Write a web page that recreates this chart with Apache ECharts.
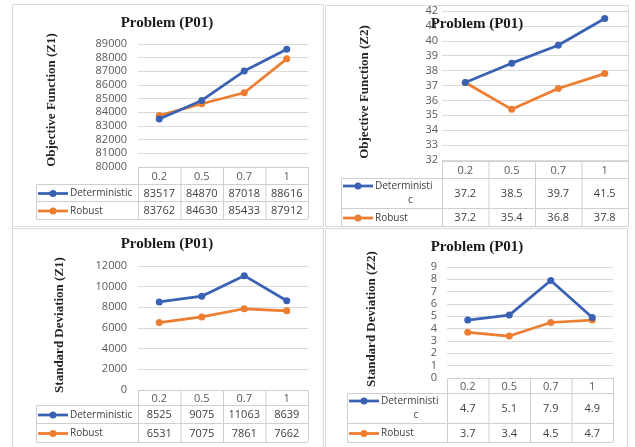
<!DOCTYPE html>
<html>
<head>
<meta charset="utf-8">
<script src="https://cdn.jsdelivr.net/npm/echarts@6/dist/echarts.min.js"></script>
<style>html,body{margin:0;padding:0;background:#fff}#c{width:635px;height:447px}</style>
</head>
<body>
<div id="c"></div>
<script>
// ---------- data ----------
const categories = ['0.2', '0.5', '0.7', '1'];
const seriesNames = ['Deterministic', 'Robust'];
const chartTitle = 'Problem (P01)';
const yTitles = ['Objective Function (Z1)', 'Objective Function (Z2)', 'Standard Deviation (Z1)', 'Standard Deviation (Z2)'];
const detObjZ1 = [83517, 84870, 87018, 88616];
const robObjZ1 = [83762, 84630, 85433, 87912];
const detObjZ2 = [37.2, 38.5, 39.7, 41.5];
const robObjZ2 = [37.2, 35.4, 36.8, 37.8];
const detSdZ1 = [8525, 9075, 11063, 8639];
const robSdZ1 = [6531, 7075, 7861, 7662];
const detSdZ2 = [4.7, 5.1, 7.9, 4.9];
const robSdZ2 = [3.7, 3.4, 4.5, 4.7];
const yRanges = [[80000, 89000, 1000], [32, 42, 1], [0, 12000, 2000], [0, 9, 1]];

// ---------- layout ----------
const COLORS = ['#3A62B4', '#ED7D31'];
const panels = [
  { frame: [12, 4, 323, 226], grid: { left: 138, top: 44, width: 170, height: 123 }, labMargin: 11,
    rows: [167, 184, 201, 219], legLeft: 36, title: [167, 23], ytitle: [52, 100], wrap: false,
    data: [detObjZ1, robObjZ1] },
  { frame: [325, 5, 628, 226], grid: { left: 442, top: 11, width: 186, height: 149 }, labMargin: 4,
    rows: [161, 178, 208, 226], legLeft: 341, title: [477, 24], ytitle: [365, 92], wrap: true,
    data: [detObjZ2, robObjZ2] },
  { frame: [12, 228, 323, 447], grid: { left: 138, top: 266, width: 170, height: 124 }, labMargin: 11,
    rows: [390, 405, 423, 442], legLeft: 36, title: [167, 244], ytitle: [60, 325], wrap: false,
    data: [detSdZ1, robSdZ1] },
  { frame: [325, 228, 627, 447], grid: { left: 447, top: 267, width: 166, height: 111 }, labMargin: 10,
    rows: [378, 393, 423, 442], legLeft: 347, title: [477, 247], ytitle: [372, 319], wrap: true,
    data: [detSdZ2, robSdZ2] }
];

const SANS = '"Open Sans", "Noto Sans", sans-serif';
const SERIF = '"Liberation Serif", "DejaVu Serif", serif';
const TABLE_LINE = '#cfcfcf';

const grids = [], xAxes = [], yAxes = [], series = [], graphics = [];

panels.forEach((p, i) => {
  grids.push(Object.assign({ containLabel: false }, p.grid));
  xAxes.push({ type: 'category', gridIndex: i, data: categories, boundaryGap: true,
    axisLine: { show: false }, axisTick: { show: false }, axisLabel: { show: false }, splitLine: { show: false } });
  yAxes.push({ type: 'value', gridIndex: i, min: yRanges[i][0], max: yRanges[i][1], interval: yRanges[i][2],
    axisLine: { show: false }, axisTick: { show: false },
    axisLabel: { color: '#595959', fontFamily: SANS, fontSize: 11, margin: p.labMargin, formatter: v => String(v) },
    splitLine: { lineStyle: { color: '#d9d9d9', width: 1 } } });
  p.data.forEach((d, k) => {
    series.push({ type: 'line', name: seriesNames[k], xAxisIndex: i, yAxisIndex: i, data: d,
      symbol: 'circle', symbolSize: 7, color: COLORS[k],
      lineStyle: { width: 2.75, color: COLORS[k] }, itemStyle: { color: COLORS[k] }, z: 3 + (1 - k) });
  });

  // panel frame
  const f = p.frame;
  graphics.push({ type: 'rect', shape: { x: f[0] + 0.5, y: f[1] + 0.5, width: f[2] - f[0], height: f[3] - f[1] },
    style: { fill: null, stroke: '#d9d9d9', lineWidth: 1 }, z: 1 });
  // titles
  graphics.push({ type: 'text', x: p.title[0], y: p.title[1],
    style: { text: chartTitle, font: 'bold 15px ' + SERIF, fill: '#1a1a1a', align: 'center', verticalAlign: 'middle' }, z: 10 });
  graphics.push({ type: 'text', x: p.ytitle[0], y: p.ytitle[1], rotation: Math.PI / 2,
    style: { text: yTitles[i], font: 'bold 13px ' + SERIF, fill: '#262626', align: 'center', verticalAlign: 'middle' }, z: 10 });

  // data table
  const gL = p.grid.left, gR = p.grid.left + p.grid.width, colW = p.grid.width / categories.length;
  const r = p.rows, L = p.legLeft;
  const hl = (x1, x2, y) => graphics.push({ type: 'line', shape: { x1: x1, y1: y + 0.5, x2: x2, y2: y + 0.5 },
    style: { stroke: TABLE_LINE, lineWidth: 1 }, z: 5 });
  const vl = (x, y1, y2) => graphics.push({ type: 'line', shape: { x1: x + 0.5, y1: y1, x2: x + 0.5, y2: y2 },
    style: { stroke: TABLE_LINE, lineWidth: 1 }, z: 5 });
  hl(gL, gR, r[0]); hl(L, gR, r[1]); hl(L, gR, r[2]); hl(L, gR, r[3]);
  vl(L, r[1], r[3]);
  for (let c = 0; c <= categories.length; c++) vl(gL + c * colW, r[0], r[3]);
  categories.forEach((cat, c) => {
    graphics.push({ type: 'text', x: gL + (c + 0.5) * colW, y: (r[0] + r[1]) / 2 + 1,
      style: { text: cat, font: '11px ' + SANS, fill: '#595959', align: 'center', verticalAlign: 'middle' }, z: 6 });
  });
  p.data.forEach((d, k) => {
    const rowMid = (r[k + 1] + r[k + 2]) / 2 + 1;
    d.forEach((v, c) => {
      graphics.push({ type: 'text', x: gL + (c + 0.5) * colW, y: rowMid,
        style: { text: String(v), font: '11px ' + SANS, fill: '#404040', align: 'center', verticalAlign: 'middle' }, z: 6 });
    });
    const name = seriesNames[k];
    const wrapped = p.wrap && name.length > 12;
    const ly = wrapped ? r[k + 1] + 8 : rowMid;
    graphics.push({ type: 'line', shape: { x1: L + 2, y1: ly, x2: L + 32, y2: ly },
      style: { stroke: COLORS[k], lineWidth: 2.75 }, z: 6 });
    graphics.push({ type: 'circle', shape: { cx: L + 17, cy: ly, r: 3.5 }, style: { fill: COLORS[k] }, z: 7 });
    const lf = '10px ' + SANS;
    if (wrapped) {
      graphics.push({ type: 'text', x: L + 34, y: ly,
        style: { text: name.slice(0, 12), font: lf, fill: '#404040', align: 'left', verticalAlign: 'middle' }, z: 6 });
      graphics.push({ type: 'text', x: (L + 34 + gL) / 2 + 2, y: ly + 14,
        style: { text: name.slice(12), font: lf, fill: '#404040', align: 'center', verticalAlign: 'middle' }, z: 6 });
    } else {
      graphics.push({ type: 'text', x: L + 34, y: ly,
        style: { text: name, font: lf, fill: '#404040', align: 'left', verticalAlign: 'middle' }, z: 6 });
    }
  });
});

const chart = echarts.init(document.getElementById('c'), null, { renderer: 'canvas', width: 635, height: 447 });
chart.setOption({
  backgroundColor: '#ffffff',
  animation: false,
  grid: grids, xAxis: xAxes, yAxis: yAxes, series: series,
  graphic: { elements: graphics }
});
</script>
</body>
</html>
